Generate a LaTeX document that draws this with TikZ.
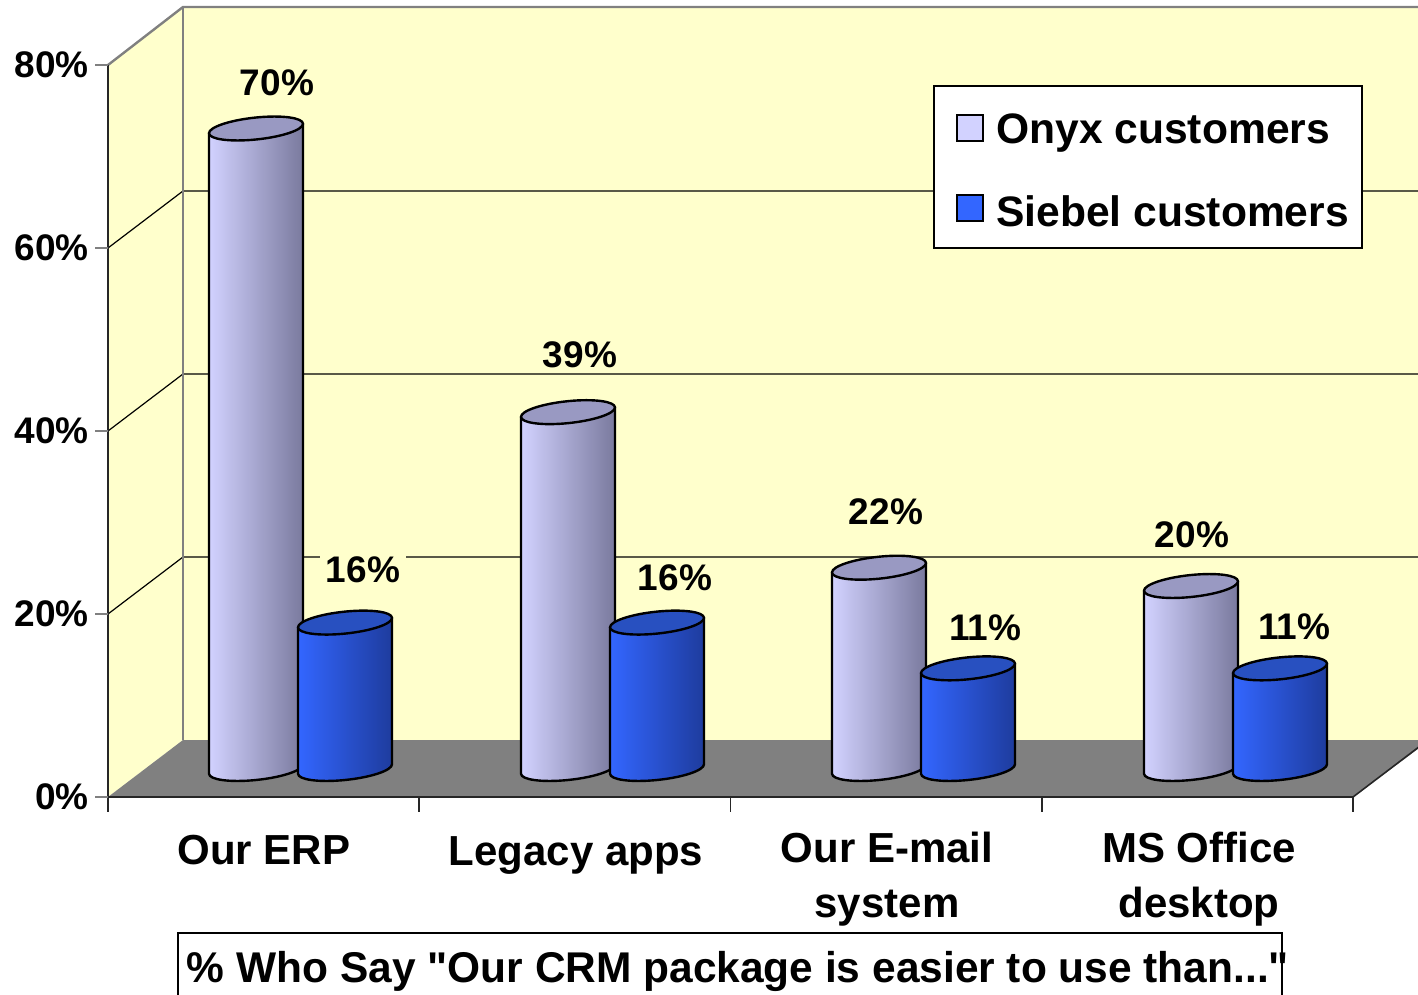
\documentclass[tikz,border=0pt]{standalone}
\usepackage{fontspec}
\setmainfont{Liberation Sans}
\usetikzlibrary{positioning}

\definecolor{wall}{RGB}{255,255,204}
\definecolor{floorgray}{RGB}{128,128,128}
\definecolor{edgegray}{RGB}{128,128,128}
\definecolor{onyxL}{RGB}{210,210,255}
\definecolor{onyxR}{RGB}{122,122,158}
\definecolor{onyxT}{RGB}{153,153,194}
\definecolor{siebelL}{RGB}{51,102,255}
\definecolor{siebelR}{RGB}{30,60,158}
\definecolor{siebelT}{RGB}{40,80,192}

% straight double quote
\newcommand{\dq}{\XeTeXglyph\XeTeXcharglyph"22\relax}

% cylinder: centre x, value in %, series
\newcommand{\drawcyl}[3]{%
  \begin{scope}[shift={(#1,769)}, yslant=0.1]
    \path[cylside, left color=#3L, right color=#3R]
      (-47,-9.15*#2) -- (-47,0) arc[start angle=180, end angle=0, x radius=47, y radius=11]
      -- (47,-9.15*#2) -- cycle;
    \path[cylside, fill=#3T] (0,-9.15*#2) ellipse[x radius=47, y radius=11];
  \end{scope}}

\begin{document}
\begin{tikzpicture}[x=0.5pt, y=-0.5pt,
    cylside/.style={draw=black, line width=1.2pt, line join=round},
    grid/.style={black, line width=0.6pt},
    wallline/.style={edgegray, line width=1.2pt},
    axisline/.style={black!85, line width=0.8pt},
    vallabel/.style={fill=wall, inner xsep=3pt, inner ysep=1pt, font=\fontsize{18.5}{20}\selectfont\bfseries},
    axlabel/.style={anchor=east, inner sep=0pt, font=\fontsize{18.5}{20}\selectfont\bfseries},
    catlabel/.style={align=center, inner sep=0pt, font=\fontsize{21}{27.5}\selectfont\bfseries},
    legsq/.style={draw=black, line width=0.8pt, minimum size=13pt, inner sep=0pt},
    legtext/.style={inner sep=0pt, font=\fontsize{21.3}{24}\selectfont\bfseries}]
    \useasboundingbox (0,0) rectangle (1418,995);
    \clip (0,0) rectangle (1418,995);

    % Walls
    \fill[wall] (108,65) -- (183,7) -- (1430,7) -- (1430,740) -- (183,740) -- (108,797) -- cycle;
    \foreach \k in {1,2,3}
        \draw[grid] (108,797-183*\k) -- (183,740-183*\k) -- (1430,740-183*\k);
    \draw[wallline] (108,65) -- (183,7) -- (1430,7);
    \draw[wallline] (183,7) -- (183,740);

    % Floor
    \fill[floorgray] (108,797) -- (183,740) -- (1430,740) -- (1353,797) -- cycle;
    \draw[axisline] (108,797) -- (1353,797) -- (1428,740);

    % Axes
    \draw[axisline] (108,65) -- (108,812);
    \foreach \x in {419.25,730.5,1041.75,1353}
        \draw[axisline] (\x,797) -- (\x,812);
    \foreach \k/\lab in {0/0,1/20,2/40,3/60,4/80} {
        \draw[wallline] (95,797-183*\k) -- (108,797-183*\k);
        \node[axlabel] (ax\lab) at (89,797-183*\k) {\lab\%};
    }

    % Value labels
    \node[vallabel] (vOnyxErp) at (277,83) {70\%};
    \node[vallabel] (vSiebelErp) at (363,570) {16\%};
    \node[vallabel] (vOnyxLegacy) at (580,355) {39\%};
    \node[vallabel] (vSiebelLegacy) at (675,578) {16\%};
    \node[vallabel] (vOnyxMail) at (886,512) {22\%};
    \node[vallabel] (vSiebelMail) at (985,628) {11\%};
    \node[vallabel] (vOnyxOffice) at (1192,535) {20\%};
    \node[vallabel] (vSiebelOffice) at (1294,627) {11\%};

    % Cylinders
    \foreach \x/\v in {256/70,568/39,879/22,1191/20}
        \drawcyl{\x}{\v}{onyx};
    \foreach \x/\v in {345/16,657/16,968/11,1280/11}
        \drawcyl{\x}{\v}{siebel};

    % Categories
    \node[catlabel] (catErp) at (264,850) {Our ERP};
    \node[catlabel, anchor=base] (catLegacy) at (576,865) {Legacy apps};
    \node[catlabel] (catMail) at (887,879) {Our E-mail\\system};
    \node[catlabel] (catOffice) at (1199,879) {MS Office\\desktop};

    % Legend
    \node[draw=black, line width=0.8pt, fill=white, anchor=north west,
          minimum width=214pt, minimum height=81pt, inner sep=0pt] (legend) at (933,85) {};
    \node[legsq, fill=onyxL] (keyOnyx) at (970,128) {};
    \node[legsq, fill=siebelL] (keySiebel) at (970,208) {};
    \node[legtext, right=6pt of keyOnyx, yshift=-2.5pt] (txtOnyx) {Onyx customers};
    \node[legtext, right=6pt of keySiebel, yshift=-1.5pt] (txtSiebel) {Siebel customers};

    % Title
    \node[draw=black, line width=0.8pt, anchor=north, minimum width=552pt,
          minimum height=38pt, inner sep=0pt] (titlebox) at (730,932) {};
    \node[inner sep=0pt] (title) at (738,971)
        {\resizebox{551pt}{\height}{\fontsize{21.5}{24}\selectfont\bfseries
         \% Who Say \dq Our CRM package is easier to use than...\dq}};
\end{tikzpicture}
\end{document}
